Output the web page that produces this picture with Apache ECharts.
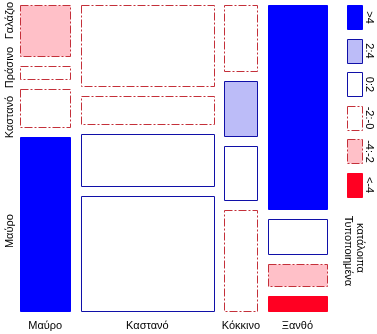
<!DOCTYPE html>
<html><head><meta charset="utf-8">
<script src="https://cdn.jsdelivr.net/npm/echarts@6/dist/echarts.min.js"></script>
<style>html,body{margin:0;padding:0;background:#fff}#c{width:377px;height:334px}</style>
</head><body><div id="c"></div>
<script>
// Data
const hairColors = ['Μαύρο', 'Καστανό', 'Κόκκινο', 'Ξανθό'];
const eyeColors = ['Μαύρο', 'Καστανό', 'Πράσινο', 'Γαλάζιο']; // bottom -> top
const eyeBrown = [68, 119, 26, 7];
const eyeHazel = [15, 54, 14, 10];
const eyeGreen = [5, 29, 14, 16];
const eyeBlue  = [20, 84, 17, 94];
const legendLabels = ['>4', '2:4', '0:2', '-2:-0', '-4:-2', '<-4'];
const legendTitle = ['Τυποποιημένα', 'κατάλοιπα'];

// Styles
const FONT = '"Liberation Sans", Arial, sans-serif';
const RED = '#c4303a', DBLUE = '#1010a8';
const DASH = [8, 2, 2, 2];
const styles = [
  {fill: '#0000ff', stroke: '#0000ff', dash: null},
  {fill: '#bcbcf8', stroke: DBLUE, dash: null},
  {fill: '#ffffff', stroke: DBLUE, dash: null},
  {fill: '#ffffff', stroke: RED, dash: DASH},
  {fill: '#ffc0c8', stroke: RED, dash: DASH},
  {fill: '#ff0022', stroke: '#ff0022', dash: null}
];
const GX = 22.2, GY = 0.0362; // gaps in axis units
const leftLabelNudge = [7, 9, -5, -10];

const counts = hairColors.map((_, h) => [eyeBrown[h], eyeHazel[h], eyeGreen[h], eyeBlue[h]]);
const N = counts.flat().reduce((a, b) => a + b, 0);
const rowTot = counts.map(r => r.reduce((a, b) => a + b, 0));
const colTot = eyeColors.map((_, e) => counts.reduce((a, r) => a + r[e], 0));
function cls(r) {
  if (r > 4) return 0; if (r > 2) return 1; if (r > 0) return 2;
  if (r >= -2) return 3; if (r >= -4) return 4; return 5;
}
const data = [];
let xc = 0;
counts.forEach((row, h) => {
  const x0 = xc, x1 = xc + rowTot[h];
  let yc = 0;
  row.forEach((v, e) => {
    const y0 = yc, y1 = yc + v / rowTot[h];
    const ex = rowTot[h] * colTot[e] / N;
    data.push([x0, x1, y0, y1, cls((v - ex) / Math.sqrt(ex)), h, e]);
    yc = y1 + GY;
  });
  xc = x1 + GX;
});

const chart = echarts.init(document.getElementById('c'), null, {renderer: 'canvas'});
const legendGraphics = [];
legendLabels.forEach((lab, i) => {
  const st = styles[i];
  const y = 5 + i * 33.5;
  legendGraphics.push({type: 'rect', shape: {x: 347.5, y: Math.round(y) + 0.5, width: 15, height: 24},
    style: {fill: st.fill, stroke: st.stroke, lineWidth: 1, lineDash: st.dash}});
  legendGraphics.push({type: 'text', x: 369, y: y + 12.5, rotation: -Math.PI / 2,
    style: {text: lab, font: '11px ' + FONT, fill: '#000', textAlign: 'center', textVerticalAlign: 'middle'}});
});
legendGraphics.push({type: 'text', x: 348, y: 251, rotation: -Math.PI / 2,
  style: {text: legendTitle[0], font: '11px ' + FONT, fill: '#000', textAlign: 'center', textVerticalAlign: 'middle'}});
legendGraphics.push({type: 'text', x: 360, y: 248, rotation: -Math.PI / 2,
  style: {text: legendTitle[1], font: '11px ' + FONT, fill: '#000', textAlign: 'center', textVerticalAlign: 'middle'}});

chart.setOption({
  animation: false,
  grid: {left: 20, right: 50, top: 5, bottom: 23, outerBoundsMode: 'none'},
  xAxis: {type: 'value', min: 0, max: N + 3 * GX, show: false},
  yAxis: {type: 'value', min: 0, max: 1 + 3 * GY, show: false},
  graphic: legendGraphics,
  series: [{
    type: 'custom',
    data: data,
    encode: {x: [0, 1], y: [2, 3]},
    renderItem: function (params, api) {
      const c = api.value(4), h = api.value(5), e = api.value(6);
      const p0 = api.coord([api.value(0), api.value(3)]);
      const p1 = api.coord([api.value(1), api.value(2)]);
      const x = Math.round(p0[0]), y = Math.round(p0[1]);
      const w = Math.round(p1[0]) - x, hh = Math.round(p1[1]) - y;
      const st = styles[c];
      const children = [{type: 'rect', shape: {x: x + 0.5, y: y + 0.5, width: w, height: hh},
        style: {fill: st.fill, stroke: st.stroke, lineWidth: 1, lineDash: st.dash}}];
      if (h === 0) {
        children.push({type: 'text', x: 10, y: (p0[1] + p1[1]) / 2 + leftLabelNudge[e], rotation: Math.PI / 2,
          style: {text: eyeColors[e], font: '11px ' + FONT, fill: '#000', textAlign: 'center', textVerticalAlign: 'middle'}});
      }
      if (e === 0) {
        children.push({type: 'text', x: (p0[0] + p1[0]) / 2, y: p1[1] + 15,
          style: {text: hairColors[h], font: '11px ' + FONT, fill: '#000', textAlign: 'center', textVerticalAlign: 'middle'}});
      }
      return {type: 'group', children: children};
    }
  }]
});
</script>
</body></html>
